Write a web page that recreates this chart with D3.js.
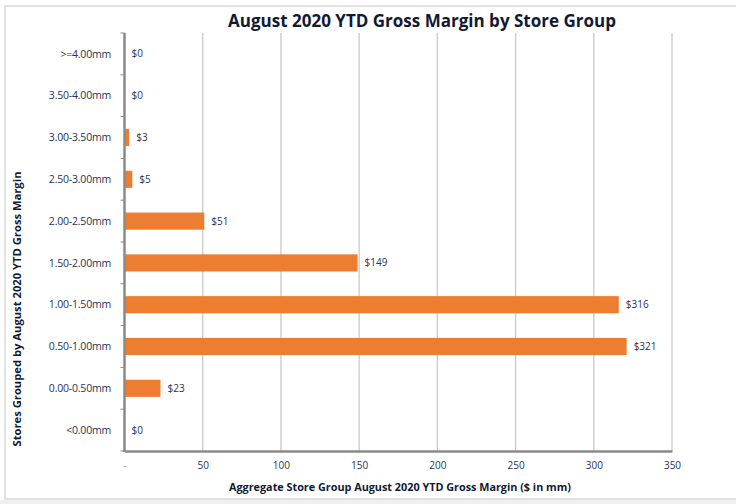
<!DOCTYPE html>
<html>
<head>
<meta charset="utf-8">
<script src="https://cdn.jsdelivr.net/npm/d3@7/dist/d3.min.js"></script>
<style>
  html, body { margin: 0; padding: 0; background: #fff; }
  svg { display: block; }
  text { font-family: "Open Sans", "Noto Sans", sans-serif; }
</style>
</head>
<body>
<script>
// Store groups, listed top to bottom as shown on the chart
const categories = [">=4.00mm", "3.50-4.00mm", "3.00-3.50mm", "2.50-3.00mm", "2.00-2.50mm",
                    "1.50-2.00mm", "1.00-1.50mm", "0.50-1.00mm", "0.00-0.50mm", "<0.00mm"];
// Aggregate YTD gross margin ($ in mm)
const margins = [0, 0, 3, 5, 51, 149, 316, 321, 23, 0];
const xTicks = [0, 50, 100, 150, 200, 250, 300, 350];

const W = 736, H = 504;
const plot = { left: 124.5, right: 672, top: 33, bottom: 451 };
const textColor = "#2a3352";

const svg = d3.select("body").append("svg").attr("width", W).attr("height", H);

// chart frame
svg.append("rect").attr("x", 0).attr("y", 500).attr("width", W).attr("height", 4).attr("fill", "#efefef");
svg.append("rect").attr("x", 5).attr("y", 6).attr("width", W).attr("height", 493)
  .attr("fill", "#fff").attr("stroke", "#cfcfcf").attr("stroke-width", 1.2);

const x = d3.scaleLinear().domain([0, 350]).range([plot.left, plot.right]);
const y = d3.scaleBand().domain(categories).range([plot.top, plot.bottom])
  .paddingInner(0.59).paddingOuter(0.295);

// vertical gridlines
svg.append("g").selectAll("line").data(xTicks.filter(d => d > 0)).join("line")
  .attr("x1", d => x(d)).attr("x2", d => x(d))
  .attr("y1", plot.top).attr("y2", plot.bottom)
  .attr("stroke", "#c9c9c9").attr("stroke-width", 1.3);

// bars
const data = categories.map((c, i) => ({ cat: c, v: margins[i] }));
svg.append("g").selectAll("rect").data(data).join("rect")
  .attr("x", x(0)).attr("y", d => y(d.cat))
  .attr("width", d => x(d.v) - x(0)).attr("height", y.bandwidth())
  .attr("fill", "#ED7D31");

// value labels
svg.append("g").selectAll("text").data(data).join("text")
  .attr("x", d => x(d.v) + 7).attr("y", d => y(d.cat) + y.bandwidth() / 2)
  .attr("dy", "0.35em").attr("font-size", 10).attr("fill", textColor)
  .text(d => "$" + d.v);

// x axis
const xAxis = d3.axisBottom(x).tickValues(xTicks).tickSize(0).tickPadding(11)
  .tickFormat(d => d === 0 ? "-" : d);
const gx = svg.append("g").attr("transform", `translate(0,${plot.bottom})`).call(xAxis);
gx.select(".domain").attr("stroke", "#8a8a8a").attr("stroke-width", 2.5);
gx.selectAll("text").attr("font-size", 10).attr("fill", textColor)
  .attr("font-family", "'Open Sans', sans-serif");
gx.selectAll(".tick").filter(d => d === 0).select("text").attr("fill", "#aaa");

// y axis with ticks at category boundaries
const step = y.step();
const boundaries = d3.range(categories.length + 1).map(i => plot.top + i * step);
svg.append("g").selectAll("line").data(boundaries).join("line")
  .attr("x1", plot.left - 4).attr("x2", plot.left)
  .attr("y1", d => d).attr("y2", d => d)
  .attr("stroke", "#8a8a8a").attr("stroke-width", 1);
svg.append("line").attr("x1", plot.left).attr("x2", plot.left)
  .attr("y1", plot.top).attr("y2", plot.bottom + 1)
  .attr("stroke", "#8a8a8a").attr("stroke-width", 2.5);
svg.append("g").selectAll("text").data(categories).join("text")
  .attr("x", 111).attr("y", d => y(d) + y.bandwidth() / 2).attr("dy", "0.35em")
  .attr("text-anchor", "end").attr("font-size", 10.5).attr("fill", textColor)
  .attr("letter-spacing", "-0.2")
  .text(d => d);

// titles
svg.append("text").attr("x", 422).attr("y", 27).attr("text-anchor", "middle")
  .attr("font-size", 17).attr("font-weight", "bold").attr("fill", "#111a33")
  .attr("textLength", 388).attr("lengthAdjust", "spacingAndGlyphs")
  .text("August 2020 YTD Gross Margin by Store Group");

svg.append("text").attr("x", 400).attr("y", 491).attr("text-anchor", "middle")
  .attr("font-size", 10).attr("font-weight", "bold").attr("fill", "#111a33")
  .attr("textLength", 342).attr("lengthAdjust", "spacingAndGlyphs")
  .text("Aggregate Store Group August 2020 YTD Gross Margin ($ in mm)");

svg.append("text").attr("transform", "translate(21,309) rotate(-90)")
  .attr("text-anchor", "middle").attr("font-size", 10).attr("font-weight", "bold")
  .attr("fill", "#111a33")
  .attr("textLength", 275).attr("lengthAdjust", "spacingAndGlyphs")
  .text("Stores Grouped by August 2020 YTD Gross Margin");
</script>
</body>
</html>
